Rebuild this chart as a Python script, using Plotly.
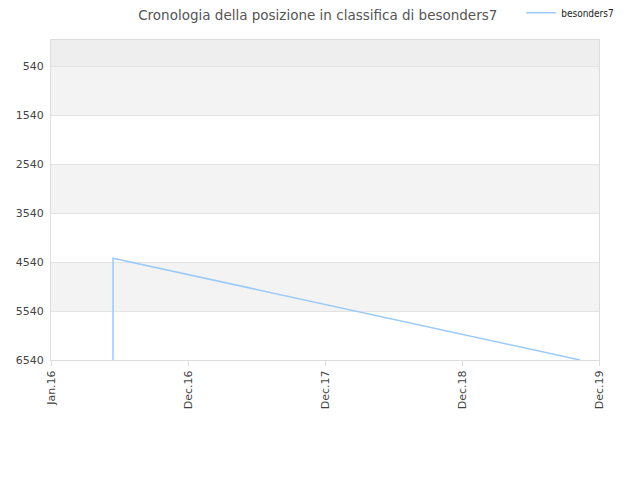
import plotly.graph_objs as go

# dati
dates = ["2016-06-12", "2016-06-12", "2016-06-12", "2016-06-12", "2016-06-12", "2019-10-22"]
positions = [6540, 5480, 4720, 4600, 4460, 6540]

tick_dates = ["2016-01-01", "2016-12-26", "2017-12-21", "2018-12-16", "2019-12-11"]
tick_labels = ["Jan.16", "Dec.16", "Dec.17", "Dec.18", "Dec.19"]

y_ticks = [540, 1540, 2540, 3540, 4540, 5540, 6540]
bands = [(0, 540, "#eeeeee"), (540, 1540, "#f3f3f3"), (2540, 3540, "#f3f3f3"),
         (4540, 5540, "#f3f3f3")]

fig = go.Figure()
fig.add_trace(go.Scatter(x=dates, y=positions, mode='lines', name='besonders7',
                         line=dict(color='#9ccaf7', width=1.5)))

# fasce alternate dello sfondo
for y0, y1, col in bands:
    fig.add_shape(type='rect', xref='paper', yref='y', x0=0, x1=1, y0=y0, y1=y1,
                  fillcolor=col, line_width=0, layer='below')

# la pagina ha un margine di 8px: compensato nei margini
fig.update_layout(
    width=640, height=480,
    title=dict(text='Cronologia della posizione in classifica di besonders7',
               x=0.484, y=0.985, xanchor='center', yanchor='middle',
               font=dict(family='DejaVu Sans', size=13.5, color='#555555')),
    paper_bgcolor='white', plot_bgcolor='white',
    margin=dict(l=43, r=49, t=32, b=128, autoexpand=False),
    font=dict(family='DejaVu Sans', size=11, color='#444444'),
    showlegend=True,
    legend=dict(x=0.955, y=0.99, xref='container', yref='container',
                xanchor='right', yanchor='middle', itemwidth=30,
                font=dict(family='DejaVu Sans Condensed', size=10, color='#222222'),
                bgcolor='rgba(0,0,0,0)'),
    xaxis=dict(type='date', range=[tick_dates[0], tick_dates[-1]],
               tickvals=tick_dates, ticktext=tick_labels, tickangle=-90,
               showgrid=False, showline=True, linecolor='#dddddd', mirror=True,
               ticks='outside', ticklen=5, tickcolor='#dddddd', zeroline=False,
               automargin=False),
    yaxis=dict(range=[6540, 0], tickvals=y_ticks, showgrid=True, gridcolor='#e3e3e3',
               showline=True, linecolor='#dddddd', mirror=True, zeroline=False,
               ticks='', ticklabelstandoff=4, automargin=False),
)

fig.write_html("out.html")
